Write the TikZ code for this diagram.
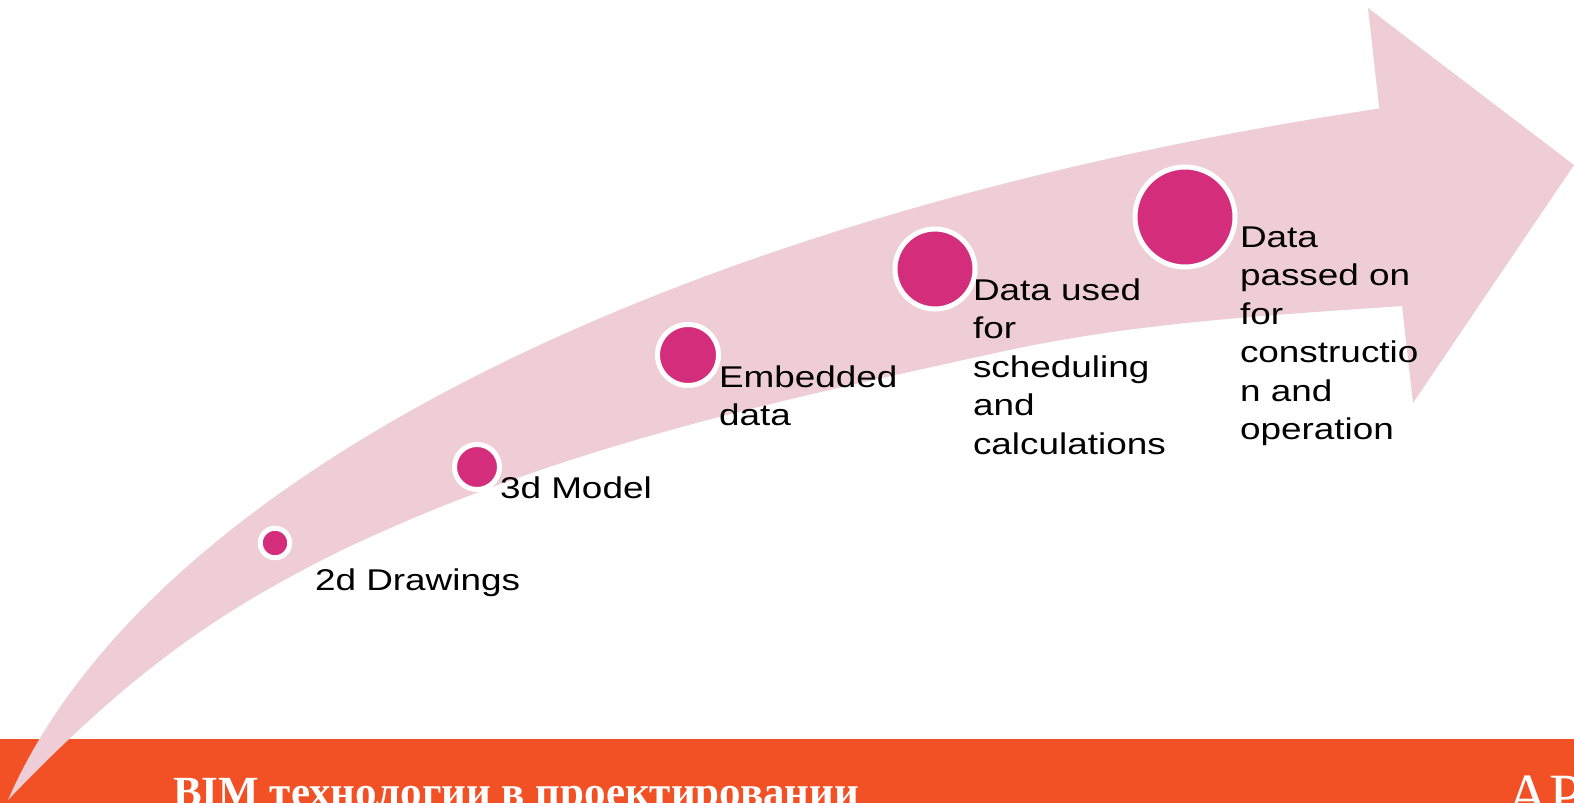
\documentclass[tikz,border=0pt]{standalone}
\usepackage{fontspec}
\setmainfont{Liberation Sans}[FakeStretch=1.23]
\newfontfamily\slidefont{Liberation Serif}
\definecolor{band}{RGB}{239,205,215}
\definecolor{mag}{RGB}{212,45,124}
\definecolor{barc}{RGB}{241,81,36}
\tikzset{
  dot/.style={circle, fill=mag, draw=white, line width=5pt, inner sep=0pt, outer sep=0pt},
  lbl/.style={anchor=base west, inner sep=0pt, outer sep=0pt, text=black, font=\fontsize{30}{38.5}\selectfont},
}
\begin{document}
\begin{tikzpicture}[x=1pt,y=-1pt]
\useasboundingbox (0,0) rectangle (1574,803);
\clip (0,0) rectangle (1574,803);
\fill[white] (0,0) rectangle (1574,803);
\fill[barc] (0,738.5) rectangle (1574,803);
\fill[band] (8,800) arc[start angle=190.76, end angle=251.06, x radius=2084.6, y radius=910.8]
  -- (1368,8) -- (1574,165) -- (1413,403) -- (1402,306)
  .. controls (1268,315.4) and (1134,322.5) .. (1000,352)
  .. controls (779,400.6) and (559,446) .. (338,552)
  .. controls (228,607) and (138,664) .. (8,800) -- cycle;
\node[dot, minimum size=29.5pt] (c1) at (275,543) {};
\node[dot, minimum size=45pt] (c2) at (477,467) {};
\node[dot, minimum size=61pt] (c3) at (688,355) {};
\node[dot, minimum size=80pt] (c4) at (935,269) {};
\node[dot, minimum size=100pt] (c5) at (1185,217) {};
\node[lbl] (l1) at (315,590) {2d Drawings};
\node[lbl] (l2) at (500,498) {3d Model};
\node[lbl] (l3) at (719,387) {\begin{tabular}[t]{@{}l@{}}Embedded\\data\end{tabular}};
\node[lbl] (l4) at (973,300) {\begin{tabular}[t]{@{}l@{}}Data used\\for\\scheduling\\and\\calculations\end{tabular}};
\node[lbl] (l5) at (1240,247) {\begin{tabular}[t]{@{}l@{}}Data\\passed on\\for\\constructio\\n and\\operation\end{tabular}};
\node[anchor=base west, inner sep=0pt, text=white, font=\slidefont\bfseries\fontsize{43}{50}\selectfont] (title) at (173,806.5) {BIM технологии в проектировании};
\node[anchor=base west, inner sep=0pt, text=white, font=\slidefont\fontsize{60}{70}\selectfont] (logo) at (1506,815) {AP};
\end{tikzpicture}
\end{document}
